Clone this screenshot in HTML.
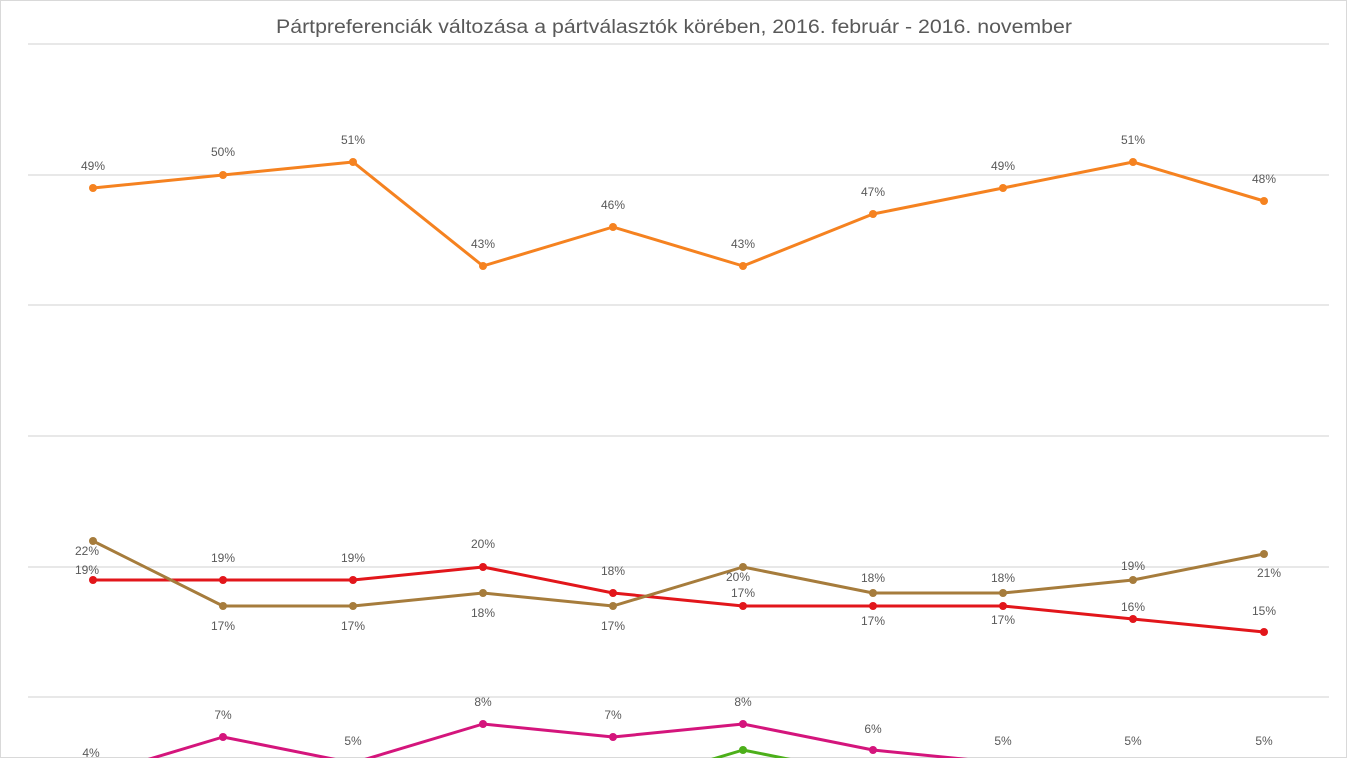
<!DOCTYPE html>
<html><head><meta charset="utf-8"><style>
html,body{margin:0;padding:0;background:#fff;width:1347px;height:758px;overflow:hidden;}
svg{display:block;font-family:"Liberation Sans",sans-serif;}
</style></head><body>
<svg width="1347" height="758" viewBox="0 0 1347 758" overflow="hidden">
<rect x="0.5" y="0.5" width="1346" height="757" fill="#fff" stroke="#d9d9d9"/>
<text x="276" y="28" dominant-baseline="middle" font-size="19" fill="#595959" textLength="796" lengthAdjust="spacingAndGlyphs">Pártpreferenciák változása a pártválasztók körében, 2016. február - 2016. november</text>
<g stroke="#d9d9d9" stroke-width="1.3">
<line x1="28" x2="1329" y1="44" y2="44"/><line x1="28" x2="1329" y1="175" y2="175"/>
<line x1="28" x2="1329" y1="305" y2="305"/><line x1="28" x2="1329" y1="436" y2="436"/>
<line x1="28" x2="1329" y1="567" y2="567"/><line x1="28" x2="1329" y1="697" y2="697"/>
</g>
<g fill="none" stroke-width="3" stroke-linejoin="round">
<polyline stroke="#f58220" points="93,188 223,175 353,162 483,266 613,227 743,266 873,214 1003,188 1133,162 1264,201"/>
<polyline stroke="#e2161b" points="93,580 223,580 353,580 483,567 613,593 743,606 873,606 1003,606 1133,619 1264,632"/>
<polyline stroke="#a67c3c" points="93,541 223,606 353,606 483,593 613,606 743,567 873,593 1003,593 1133,580 1264,554"/>
<polyline stroke="#d4157c" points="93,776 223,737 353,763 483,724 613,737 743,724 873,750 1003,763 1133,763 1264,763"/>
<polyline stroke="#4caf1a" points="613,789 743,750 873,776"/>
</g>
<g fill="#f58220"><circle cx="93" cy="188" r="4"/><circle cx="223" cy="175" r="4"/><circle cx="353" cy="162" r="4"/><circle cx="483" cy="266" r="4"/><circle cx="613" cy="227" r="4"/><circle cx="743" cy="266" r="4"/><circle cx="873" cy="214" r="4"/><circle cx="1003" cy="188" r="4"/><circle cx="1133" cy="162" r="4"/><circle cx="1264" cy="201" r="4"/></g>
<g fill="#e2161b"><circle cx="93" cy="580" r="4"/><circle cx="223" cy="580" r="4"/><circle cx="353" cy="580" r="4"/><circle cx="483" cy="567" r="4"/><circle cx="613" cy="593" r="4"/><circle cx="743" cy="606" r="4"/><circle cx="873" cy="606" r="4"/><circle cx="1003" cy="606" r="4"/><circle cx="1133" cy="619" r="4"/><circle cx="1264" cy="632" r="4"/></g>
<g fill="#a67c3c"><circle cx="93" cy="541" r="4"/><circle cx="223" cy="606" r="4"/><circle cx="353" cy="606" r="4"/><circle cx="483" cy="593" r="4"/><circle cx="613" cy="606" r="4"/><circle cx="743" cy="567" r="4"/><circle cx="873" cy="593" r="4"/><circle cx="1003" cy="593" r="4"/><circle cx="1133" cy="580" r="4"/><circle cx="1264" cy="554" r="4"/></g>
<g fill="#d4157c"><circle cx="223" cy="737" r="4"/><circle cx="483" cy="724" r="4"/><circle cx="613" cy="737" r="4"/><circle cx="743" cy="724" r="4"/><circle cx="873" cy="750" r="4"/></g>
<g fill="#4caf1a"><circle cx="743" cy="750" r="4"/></g>
<g font-size="12" fill="#595959" text-anchor="middle" dominant-baseline="middle">
<text x="93" y="167">49%</text><text x="223" y="153">50%</text><text x="353" y="141">51%</text><text x="483" y="245">43%</text><text x="613" y="206">46%</text><text x="743" y="245">43%</text><text x="873" y="193">47%</text><text x="1003" y="167">49%</text><text x="1133" y="141">51%</text><text x="1264" y="180">48%</text>
<text x="87" y="571">19%</text><text x="223" y="559">19%</text><text x="353" y="559">19%</text><text x="483" y="545">20%</text><text x="613" y="572">18%</text><text x="743" y="594">17%</text><text x="873" y="622">17%</text><text x="1003" y="621">17%</text><text x="1133" y="608">16%</text><text x="1264" y="612">15%</text>
<text x="87" y="552">22%</text><text x="223" y="627">17%</text><text x="353" y="627">17%</text><text x="483" y="614">18%</text><text x="613" y="627">17%</text><text x="738" y="578">20%</text><text x="873" y="579">18%</text><text x="1003" y="579">18%</text><text x="1133" y="567">19%</text><text x="1269" y="574">21%</text>
<text x="91" y="754">4%</text><text x="223" y="716">7%</text><text x="353" y="742">5%</text><text x="483" y="703">8%</text><text x="613" y="716">7%</text><text x="743" y="703">8%</text><text x="873" y="730">6%</text><text x="1003" y="742">5%</text><text x="1133" y="742">5%</text><text x="1264" y="742">5%</text>
</g>
</svg>
</body></html>
